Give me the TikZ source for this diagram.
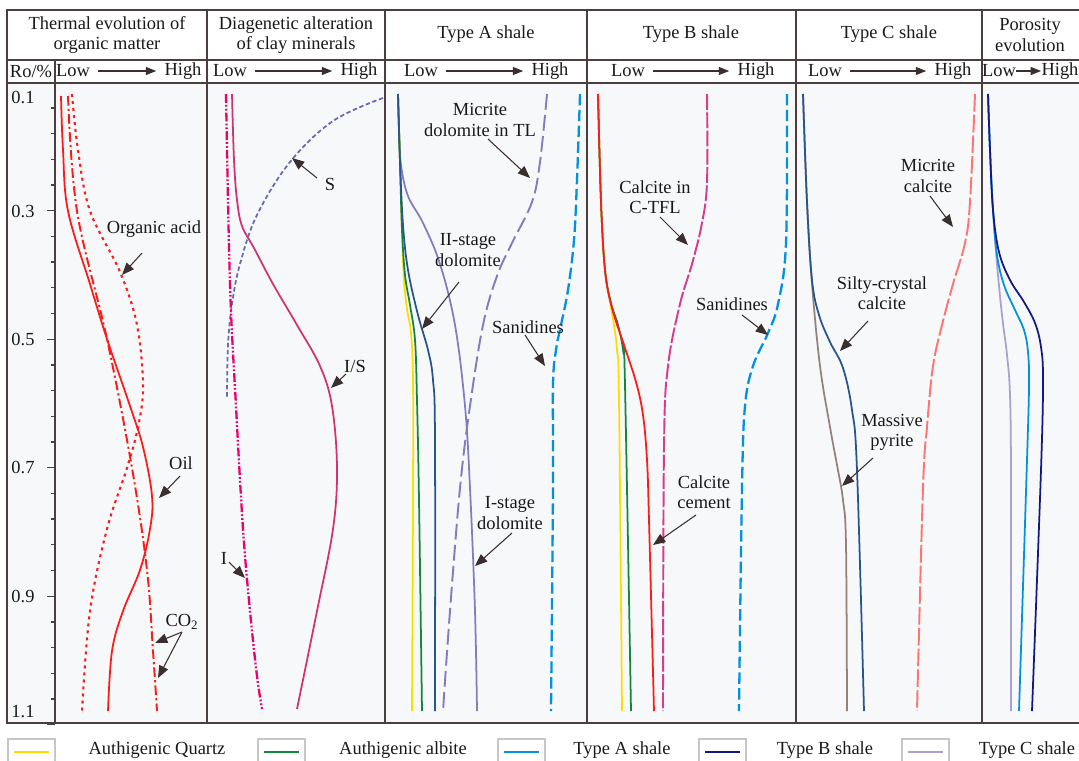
\documentclass[tikz,border=0pt]{standalone}
\usepackage{fontspec}
\setmainfont{Liberation Serif}
\usetikzlibrary{arrows.meta, positioning}

\definecolor{frame1}{RGB}{74,62,62}
\definecolor{arrow1}{RGB}{58,46,46}
\definecolor{body1}{RGB}{247,248,249}
\definecolor{red1}{RGB}{255,25,25}
\definecolor{magenta1}{RGB}{236,0,110}
\definecolor{rose1}{RGB}{210,50,110}
\definecolor{slate1}{RGB}{105,105,180}
\definecolor{yellow1}{RGB}{255,220,0}
\definecolor{green1}{RGB}{20,135,60}
\definecolor{steel1}{RGB}{40,85,140}
\definecolor{lilac1}{RGB}{130,125,190}
\definecolor{sky1}{RGB}{0,145,225}
\definecolor{pink1}{RGB}{215,60,140}
\definecolor{brown1}{RGB}{150,130,120}
\definecolor{salmon1}{RGB}{255,115,115}
\definecolor{lav1}{RGB}{170,160,210}
\definecolor{navy1}{RGB}{20,25,130}

\begin{document}
\begin{tikzpicture}[x=0.02cm, y=-0.02cm,
    every node/.style={font=\fontsize{10.5}{11.5}\selectfont, inner sep=1.5pt, text=black!90},
    frame/.style={draw=frame1, line width=0.9pt},
    tick/.style={draw=frame1, line width=0.7pt},
    lowhigh/.style={-{Triangle[length=6pt,width=4.5pt]}, draw=arrow1, line width=0.9pt, shorten <=3pt, shorten >=3pt},
    note/.style={-{Triangle[length=7pt,width=5.5pt]}, draw=arrow1, line width=0.6pt},
    tag/.style={align=center},
    curve/.style={line width=1pt},
    acid/.style={curve, red1, line width=1.2pt, dash pattern=on 1.7pt off 2.3pt},
    co2/.style={curve, red1, line width=1.1pt, dash pattern=on 5.5pt off 1.8pt on 1.2pt off 1.8pt},
    illite/.style={curve, magenta1, line width=1.3pt, dash pattern=on 5pt off 1.2pt on 1pt off 1.2pt on 1pt off 1.2pt},
    smectite/.style={curve, slate1, dash pattern=on 2.5pt off 1.5pt},
    longdash/.style={curve, line width=1.1pt, dash pattern=on 9pt off 3pt},
    sanid/.style={curve, sky1, line width=1.3pt, dash pattern=on 6.5pt off 2.5pt},
    keybox/.style={draw=gray!45, line width=0.6pt},
    keyline/.style={line width=1.6pt}
]
\useasboundingbox (0,0) rectangle (1079,761);

% frame
\fill[body1] (7,83) rectangle (1082,723);
\draw[frame] (7,10) rectangle (1082,723);
\draw[frame] (7,60) -- (1082,60);
\draw[frame] (7,83) -- (1082,83);
\draw[frame] (55,60) -- (55,723);
\foreach \x in {207,385,587,796,982}
    \draw[frame] (\x,10) -- (\x,723);

% headers
\node[tag, name=h1] at (107,35) {Thermal evolution of\\organic matter};
\node[tag, name=h2] at (296,35) {Diagenetic alteration\\of clay minerals};
\node[name=h3] at (486,34) {Type A shale};
\node[name=h4] at (691,34) {Type B shale};
\node[name=h5] at (889,34) {Type C shale};
\node[tag, name=h6] at (1030,35) {Porosity\\evolution};

\node[name=ro] at (31,71) {Ro/\%};
\node[name=low1] at (73,71) {Low};   \node[name=high1] at (183,71) {High};
\node[name=low2] at (230,71) {Low};  \node[name=high2] at (359,71) {High};
\node[name=low3] at (421,71) {Low};  \node[name=high3] at (550,71) {High};
\node[name=low4] at (628,71) {Low};  \node[name=high4] at (756,71) {High};
\node[name=low5] at (825,71) {Low};  \node[name=high5] at (953,71) {High};
\node[name=low6, inner sep=0pt] at (999,71) {Low};
\node[name=high6, inner sep=0pt] at (1060,71) {High};
\foreach \i in {1,...,5}
    \draw[lowhigh] (low\i) -- (high\i);
\draw[lowhigh, shorten <=0pt, shorten >=0pt] (low6) -- (high6);

% Ro scale
\foreach \k in {0,...,25}{
    \pgfmathsetmacro{\yy}{82.2+\k*25.7}
    \pgfmathtruncatemacro{\mj}{mod(\k,5)==0 ? 8 : 4}
    \draw[tick] (55-\mj,\yy) -- (55,\yy);
}
\node[name=r1] at (23,97) {0.1};
\node[name=r3] at (23,211) {0.3};
\node[name=r5] at (23,339) {0.5};
\node[name=r7] at (23,467) {0.7};
\node[name=r9] at (23,596) {0.9};
\node[name=r11] at (23,712) {1.1};

% organic matter
\draw[acid] plot[smooth, tension=0.6] coordinates {(72,94) (78,150) (90,211) (120,272) (137,325) (143,386) (138,427) (127,468) (107,529) (90,611) (82,711)};
\draw[co2] plot[smooth, tension=0.6] coordinates {(68,96) (77,211) (107,339) (132,468) (147,570) (153,651) (157,711)};
\draw[curve, red1] plot[smooth, tension=0.6] coordinates {(61,96) (63,150) (68,211) (90,284) (107,339) (130,406) (143,447) (152,496) (150,529) (140,570) (123,611) (112,651) (108,711)};

\node[name=acidLbl] at (154,229) {Organic acid};
\coordinate (acidA) at (142,253); \coordinate (acidB) at (122,275);
\draw[note] (acidA) -- (acidB);
\node[name=oilLbl] at (181,463) {Oil};
\coordinate (oilA) at (180,476); \coordinate (oilB) at (159,498);
\draw[note] (oilA) -- (oilB);
\node[name=co2Lbl] at (182,622) {CO\textsubscript{2}};
\coordinate (co2A) at (182,632);
\coordinate (co2B) at (155,643); \coordinate (co2C) at (158,678);
\draw[note] (co2A) -- (co2B);
\draw[note] (co2A) -- (co2C);

% clay minerals
\draw[smectite] plot[smooth, tension=0.6] coordinates {(383,98) (333,121) (290,162) (257,215) (240,264) (232,304) (228,345) (227,398)};
\draw[illite] plot[smooth, tension=0.6] coordinates {(226,94) (230,284) (236,406) (243,529) (250,611) (257,676) (262,709)};
\draw[curve, rose1] plot[smooth, tension=0.6] coordinates {(232,94) (234,160) (237,200) (242,226) (254,248) (273,284) (297,325) (320,366) (332,406) (337,468) (333,529) (317,611) (297,709)};

\node[name=sLbl] at (330,184) {S};
\coordinate (sA) at (317,178); \coordinate (sB) at (292,158);
\draw[note] (sA) -- (sB);
\node[name=isLbl] at (355,366) {I/S};
\coordinate (isA) at (346,374); \coordinate (isB) at (331,388);
\draw[note] (isA) -- (isB);
\node[name=iLbl] at (224,558) {I};
\coordinate (iA) at (229,562); \coordinate (iB) at (245,578);
\draw[note] (iA) -- (iB);

% type A shale
\draw[curve, lilac1] plot[smooth, tension=0.6] coordinates {(398,94) (399,130) (401,165) (408,196) (423,223) (440,264) (455,325) (465,406) (470,488) (475,611) (477,711)};
\draw[longdash, lilac1] plot[smooth, tension=0.6] coordinates {(547,94) (540,162) (532,202) (512,243) (497,276) (483,325) (470,406) (460,488) (450,611) (443,711)};
\draw[sanid] plot[smooth, tension=0.6] coordinates {(580,94) (577,180) (574,240) (568,290) (561,325) (556,350) (553,385) (553,488) (551,711)};
\draw[curve, yellow1] plot[smooth, tension=0.6] coordinates {(398,94) (400,162) (402,230) (404,280) (407,309) (411,333) (413,380) (413,500) (412,711)};
\draw[curve, green1] plot[smooth, tension=0.6] coordinates {(398,94) (400,162) (402,230) (405,275) (410,305) (415,340) (417,400) (419,500) (422,711)};
\draw[curve, steel1] plot[smooth, tension=0.6] coordinates {(398,94) (400,162) (403,225) (408,270) (418,315) (428,350) (433,380) (435,440) (435,711)};

\node[tag, name=mdLbl] at (480,120) {Micrite\\dolomite in TL};
\coordinate (mdA) at (488,139); \coordinate (mdB) at (530,178);
\draw[note] (mdA) -- (mdB);
\node[tag, name=d2Lbl] at (468,250) {II-stage\\dolomite};
\coordinate (d2A) at (459,282); \coordinate (d2B) at (422,329);
\draw[note] (d2A) -- (d2B);
\node[name=sanALbl] at (528,327) {Sanidines};
\coordinate (sanAA) at (525,335); \coordinate (sanAB) at (545,366);
\draw[note] (sanAA) -- (sanAB);
\node[tag, name=d1Lbl] at (510,513) {I-stage\\dolomite};
\coordinate (d1A) at (512,533); \coordinate (d1B) at (475,566);
\draw[note] (d1A) -- (d1B);

% type B shale
\draw[longdash, pink1, dash pattern=on 9pt off 1.4pt] plot[smooth, tension=0.6] coordinates {(707,94) (707,182) (702,223) (692,264) (680,304) (668,366) (664,447) (663,711)};
\draw[sanid] plot[smooth, tension=0.6] coordinates {(787,94) (786,243) (778,304) (768,333) (753,366) (745,406) (742,488) (739,711)};
\draw[curve, yellow1] plot[smooth, tension=0.6] coordinates {(598,94) (601,202) (605,270) (610,302) (614,325) (617,350) (619,400) (622,711)};
\draw[curve, green1] plot[smooth, tension=0.6] coordinates {(598,94) (601,202) (605,270) (611,303) (618,325) (623,350) (625,385) (631,711)};
\draw[curve, red1] plot[smooth, tension=0.6] coordinates {(598,94) (601,202) (605,270) (612,308) (624,345) (636,382) (643,415) (647,460) (649,520) (654,711)};

\node[tag, name=ctLbl] at (655,197) {Calcite in\\C-TFL};
\coordinate (ctA) at (660,217); \coordinate (ctB) at (688,245);
\draw[note] (ctA) -- (ctB);
\node[name=sanBLbl] at (732,304) {Sanidines};
\coordinate (sanBA) at (742,315); \coordinate (sanBB) at (768,335);
\draw[note] (sanBA) -- (sanBB);
\node[tag, name=ccLbl] at (704,492) {Calcite\\cement};
\coordinate (ccA) at (696,515); \coordinate (ccB) at (653,545);
\draw[note] (ccA) -- (ccB);

% type C shale
\draw[longdash, salmon1, dash pattern=on 10pt off 1.8pt] plot[smooth, tension=0.6] coordinates {(975,94) (970,202) (965,243) (953,284) (942,325) (933,366) (927,427) (923,488) (917,711)};
\draw[curve, brown1] plot[smooth, tension=0.6] coordinates {(803,94) (807,202) (812,284) (820,366) (830,427) (837,465) (843,500) (846,545) (847,711)};
\draw[curve, steel1] plot[smooth, tension=0.6] coordinates {(803,94) (807,202) (812,280) (819,315) (830,342) (843,368) (852,410) (857,470) (864,711)};

\node[tag, name=mcLbl] at (928,176) {Micrite\\calcite};
\coordinate (mcA) at (930,196); \coordinate (mcB) at (953,227);
\draw[note] (mcA) -- (mcB);
\node[tag, name=scLbl] at (882,293) {Silty-crystal\\calcite};
\coordinate (scA) at (868,321); \coordinate (scB) at (840,351);
\draw[note] (scA) -- (scB);
\node[tag, name=mpLbl] at (892,432) {Massive\\pyrite};
\coordinate (mpA) at (873,458); \coordinate (mpB) at (842,486);
\draw[note] (mpA) -- (mpB);

% porosity
\draw[curve, lav1] plot[smooth, tension=0.6] coordinates {(988,94) (990,150) (993,210) (997,264) (1002,315) (1007,355) (1010,395) (1011,480) (1011,711)};
\draw[curve, sky1] plot[smooth, tension=0.6] coordinates {(988,94) (990,150) (993,210) (997,255) (1004,285) (1015,310) (1024,330) (1028,352) (1029,385) (1027,460) (1019,711)};
\draw[curve, navy1] plot[smooth, tension=0.6] coordinates {(988,94) (990,150) (993,210) (999,252) (1010,280) (1024,302) (1035,323) (1041,347) (1043,380) (1041,470) (1032,711)};

% legend
\foreach \bx/\col in {8/yellow1, 258/green1, 498/sky1, 699/navy1, 902/lav1}{
    \draw[keybox] (\bx,739) rectangle (\bx+47,775);
    \draw[keyline, \col] (\bx+6,752) -- (\bx+41,752);
}
\node[name=keyQ] at (157,750) {Authigenic Quartz};
\node[name=keyAb] at (403,750) {Authigenic albite};
\node[name=keyA] at (622,750) {Type A shale};
\node[name=keyB] at (825,750) {Type B shale};
\node[name=keyC] at (1027,750) {Type C shale};
\end{tikzpicture}
\end{document}
